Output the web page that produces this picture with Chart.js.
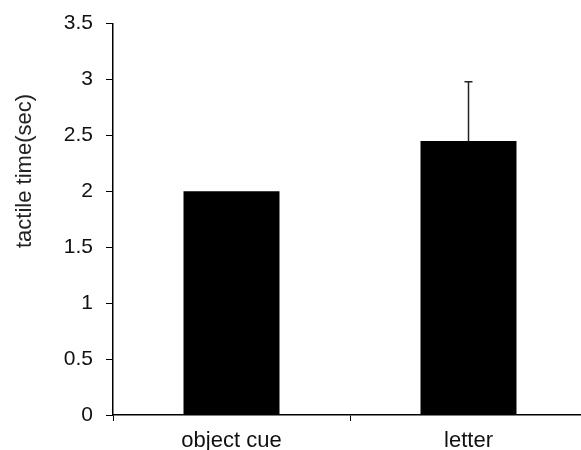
<!DOCTYPE html>
<html>
<head>
<meta charset="utf-8">
<script src="https://cdn.jsdelivr.net/npm/chart.js@4.4.0/dist/chart.umd.min.js"></script>
<style>
  html, body { margin: 0; padding: 0; background: #fff; overflow: hidden; }
  #wrap { width: 600px; height: 450px; }
</style>
</head>
<body>
<div id="wrap"><canvas id="chart" width="600" height="450"></canvas></div>
<script>
// data
const categories = ["object cue", "letter"];
const meanTimes = [2.0, 2.45];
const errorUp = [0, 0.53];
const yTicks = [0, 0.5, 1, 1.5, 2, 2.5, 3, 3.5];
const yTitle = "tactile time(sec)";

const fontFamily = '"Liberation Sans", Arial, sans-serif';

// simple error bar (upper only), drawn via the y scale
const errorBars = {
  id: "errorBars",
  afterDatasetsDraw(chart) {
    const ctx = chart.ctx;
    const meta = chart.getDatasetMeta(0);
    const y = chart.scales.y;
    ctx.save();
    ctx.strokeStyle = "#222";
    ctx.lineWidth = 1.5;
    meta.data.forEach((bar, i) => {
      if (!errorUp[i]) return;
      const top = y.getPixelForValue(meanTimes[i] + errorUp[i]);
      const base = y.getPixelForValue(meanTimes[i]);
      ctx.beginPath();
      ctx.moveTo(bar.x, base);
      ctx.lineTo(bar.x, top);
      ctx.moveTo(bar.x - 4, top);
      ctx.lineTo(bar.x + 4, top);
      ctx.stroke();
    });
    ctx.restore();
  }
};

// y title sits a bit above the middle of the axis in the original
const sideTitle = {
  id: "sideTitle",
  afterDraw(chart) {
    const ctx = chart.ctx;
    ctx.save();
    ctx.translate(25, 171);
    ctx.rotate(-Math.PI / 2);
    ctx.font = "22px " + fontFamily;
    ctx.fillStyle = "#222";
    ctx.textAlign = "center";
    ctx.textBaseline = "middle";
    ctx.fillText(yTitle, 0, 0);
    ctx.restore();
  }
};

new Chart(document.getElementById("chart"), {
  type: "bar",
  plugins: [errorBars, sideTitle],
  data: {
    labels: categories,
    datasets: [{
      data: meanTimes,
      backgroundColor: "#000",
      borderWidth: 0,
      categoryPercentage: 0.405,
      barPercentage: 1.0
    }]
  },
  options: {
    responsive: false,
    animation: false,
    layout: { padding: { top: 10, left: 0, right: 13, bottom: 0 } },
    plugins: { legend: { display: false }, tooltip: { enabled: false } },
    scales: {
      x: {
        grid: { offset: true, drawOnChartArea: false, tickLength: 6, color: "#000", lineWidth: 1 },
        border: { color: "#000", width: 1.5 },
        ticks: { color: "#111", font: { family: fontFamily, size: 22 }, padding: 7 },
        afterFit(s) { s.height = 35; }
      },
      y: {
        min: 0,
        max: 3.5,
        afterBuildTicks(s) { s.ticks = yTicks.map(v => ({ value: v })); },
        grid: { drawOnChartArea: false, tickLength: 7, color: "#000", lineWidth: 1 },
        border: { color: "#000", width: 1.5 },
        ticks: {
          color: "#111",
          font: { family: fontFamily, size: 21, lineHeight: 1.0 },
          padding: 13,
          callback: v => String(v)
        },
        afterFit(s) { s.width = 113; }
      }
    }
  }
});
</script>
</body>
</html>
